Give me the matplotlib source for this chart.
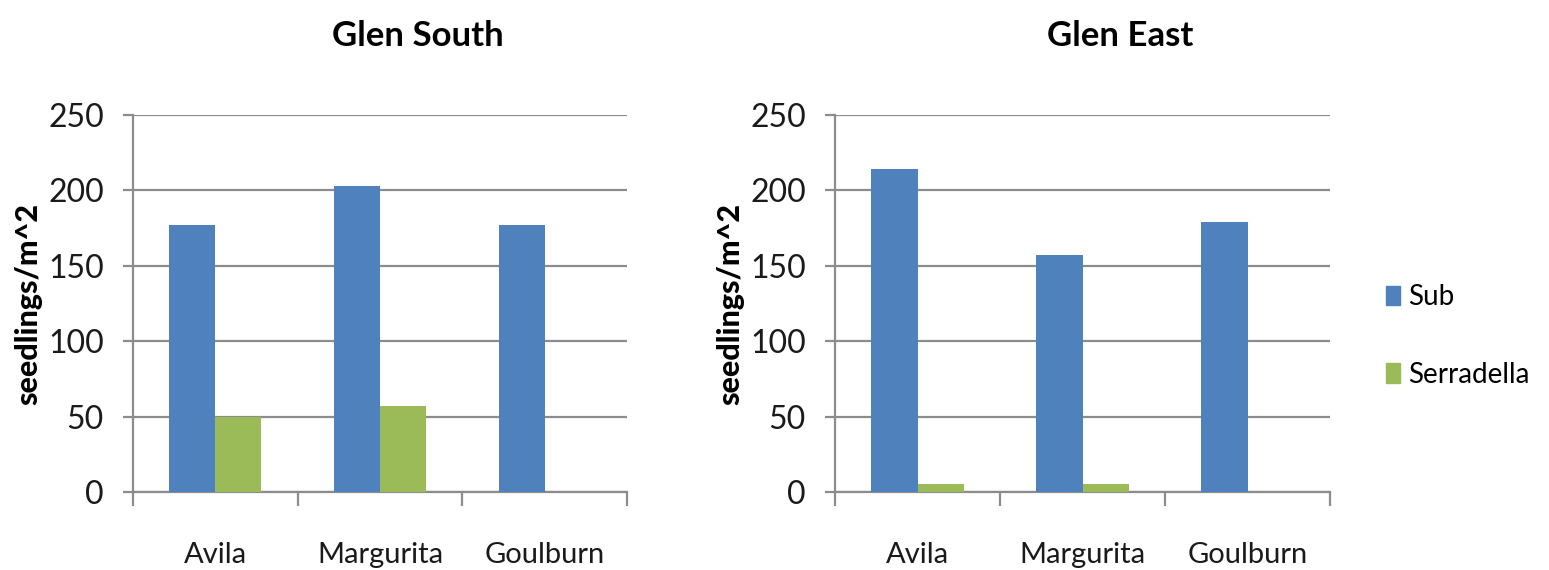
import matplotlib
matplotlib.use("Agg")
import matplotlib.pyplot as plt
from matplotlib.patches import Patch

plt.rcParams['font.family'] = ['Lato', 'DejaVu Sans']

categories = ["Avila", "Margurita", "Goulburn"]
series_names = ["Sub", "Serradella"]
south_sub = [177, 203, 177]
south_serradella = [50, 57, 0]
east_sub = [214, 157, 179]
east_serradella = [5, 5, 0]
titles = ["Glen South", "Glen East"]
yticks = [0, 50, 100, 150, 200, 250]

blue = "#4F81BD"
green = "#9BBB59"
grid_c = "#8C8C8C"

fig = plt.figure(figsize=(15.49, 5.70), dpi=100)
ax1 = fig.add_axes([133/1549, 1-492/570, 494/1549, 377/570])
ax2 = fig.add_axes([835/1549, 1-492/570, 495/1549, 377/570])

panels = [(ax1, south_sub, south_serradella, titles[0]),
          (ax2, east_sub, east_serradella, titles[1])]

w = 0.28
for ax, sub, ser, title in panels:
    x = list(range(len(categories)))
    ax.bar([i - w/2 for i in x], sub, width=w, color=blue, zorder=3)
    ax.bar([i + w/2 for i in x], ser, width=w, color=green, zorder=3)
    ax.set_xlim(-0.5, len(categories) - 0.5)
    ax.set_ylim(0, 250)
    ax.set_yticks(yticks)
    ax.set_yticklabels([str(v) for v in yticks], fontsize=23, color="#1a1a1a")
    ax.yaxis.grid(True, color=grid_c, linewidth=1.6, zorder=0)
    ax.set_axisbelow(True)
    ax.set_xticks([-0.5, 0.5, 1.5, 2.5])
    ax.set_xticklabels([])
    ax.set_xticks(x, minor=True)
    ax.set_xticklabels(categories, minor=True, fontsize=21, color="#1a1a1a")
    ax.tick_params(axis='x', which='major', length=10, width=1.6, color=grid_c, direction='out')
    ax.tick_params(axis='x', which='minor', length=0, pad=36)
    ax.tick_params(axis='y', length=7, width=1.6, color=grid_c, pad=14)
    for s in ['top', 'right']:
        ax.spines[s].set_visible(False)
    for s in ['left', 'bottom']:
        ax.spines[s].set_color(grid_c)
        ax.spines[s].set_linewidth(1.6)
    ax.set_ylabel("seedlings/m^2", fontsize=22, fontweight='black', labelpad=4)
    ax.set_title(title, fontsize=25, fontweight='bold', x=0.577, pad=50)

handles = [Patch(color=blue, label=series_names[0]), Patch(color=green, label=series_names[1])]
fig.legend(handles=handles, loc='center left', bbox_to_anchor=(1361/1549, 1-336/570),
           frameon=False, fontsize=20, handlelength=0.5, handleheight=0.7,
           handletextpad=0.3, labelspacing=1.85)

fig.savefig("out.png", dpi=100)
